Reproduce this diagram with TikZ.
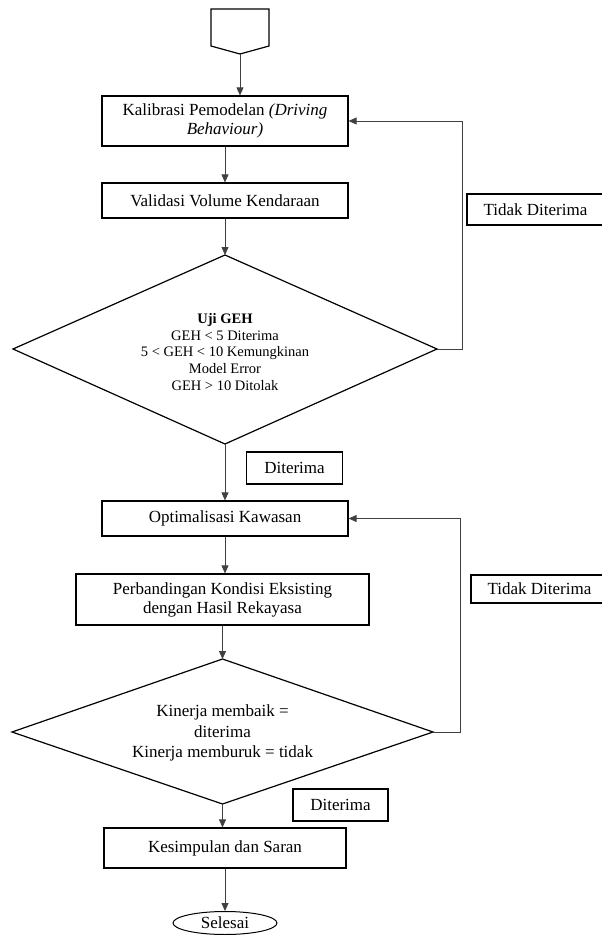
\documentclass[tikz,border=0pt]{standalone}
\usepackage{fontspec}
\setmainfont{Liberation Serif}
\usetikzlibrary{shapes.geometric,arrows.meta}
\begin{document}
\begin{tikzpicture}[x=1pt,y=-1pt,
  box/.style={draw=black, line width=1.2pt, inner sep=0pt, align=center,
    font=\fontsize{17}{19}\selectfont},
  lbl/.style={box},
  dtext/.style={inner sep=0pt, align=center, font=\fontsize{17}{20.5}\selectfont},
  dtextsmall/.style={inner sep=0pt, align=center, font=\fontsize{14.5}{16.8}\selectfont},
  shapeline/.style={draw=black, line width=1.2pt},
  conn/.style={draw=black!75, line width=0.8pt},
  arr/.style={conn, -{Triangle[length=8pt,width=7pt]}},
  endnode/.style={ellipse, draw=black, line width=1pt, inner sep=0pt,
    minimum width=104pt, minimum height=23pt, font=\fontsize{17}{19}\selectfont}
]
\clip (0,0) rectangle (602,935);
\fill[white] (0,0) rectangle (602,935);

% start connector
\draw[shapeline] (211,9) -- (269,9) -- (269,46) -- (240,54) -- (211,46) -- cycle;
\coordinate (st) at (240,54);

% boxes
\node[box, minimum width=246pt, minimum height=50pt] (kal) at (225,121)
  {Kalibrasi Pemodelan \textit{(Driving}\\ \textit{Behaviour)}};
\node[box, minimum width=246pt, minimum height=35pt] (val) at (225,200.5)
  {Validasi Volume Kendaraan};

% diamond 1
\coordinate (d1t) at (225,255);
\coordinate (d1r) at (437,349);
\coordinate (d1b) at (225,444);
\coordinate (d1l) at (13,349);
\draw[shapeline] (d1t) -- (d1r) -- (d1b) -- (d1l) -- cycle;
\node[dtextsmall] (d1) at (225,352)
  {\textbf{Uji GEH}\\GEH < 5 Diterima\\5 < GEH < 10 Kemungkinan\\Model Error\\GEH > 10 Ditolak};

\node[lbl, minimum width=137pt, minimum height=31pt] (tid1) at (535.5,209.5) {Tidak Diterima};
\node[lbl, minimum width=96pt, minimum height=32pt] (dit1) at (294.5,468) {Diterima};

\node[box, minimum width=246pt, minimum height=35pt] (opt) at (225,518.5)
  {Optimalisasi Kawasan};
\node[box, minimum width=293pt, minimum height=51pt] (per) at (222.5,599.5)
  {Perbandingan Kondisi Eksisting\\dengan Hasil Rekayasa};

\node[lbl, minimum width=137pt, minimum height=28pt] (tid2) at (539.5,589) {Tidak Diterima};

% diamond 2
\coordinate (d2t) at (222.5,659);
\coordinate (d2r) at (433,732);
\coordinate (d2b) at (222.5,804);
\coordinate (d2l) at (12,732);
\draw[shapeline] (d2t) -- (d2r) -- (d2b) -- (d2l) -- cycle;
\node[dtext] (d2) at (222.5,733)
  {Kinerja membaik =\\diterima\\Kinerja memburuk = tidak};

\node[lbl, minimum width=95pt, minimum height=32pt] (dit2) at (340.5,805) {Diterima};

\node[box, minimum width=242pt, minimum height=40pt] (kes) at (225,848)
  {Kesimpulan dan Saran};
\node[endnode] (sel) at (225,923) {Selesai};

% loop corners
\coordinate (lp1) at (462,349);
\coordinate (lp2) at (460,732);

% connectors
\draw[arr] (st) -- (st |- kal.north);
\draw[arr] (kal.south) -- (val.north);
\draw[arr] (val.south) -- (d1t);
\draw[arr] (d1r) -- (lp1) |- (kal.east);
\draw[arr] (d1b) -- (opt.north);
\draw[arr] (opt.south) -- (opt.south |- per.north);
\draw[arr] (per.south) -- (d2t);
\draw[arr] (d2r) -- (lp2) |- (opt.east);
\draw[arr] (d2b) -- (d2b |- kes.north);
\draw[arr] (kes.south) -- (sel.north);
\end{tikzpicture}
\end{document}
